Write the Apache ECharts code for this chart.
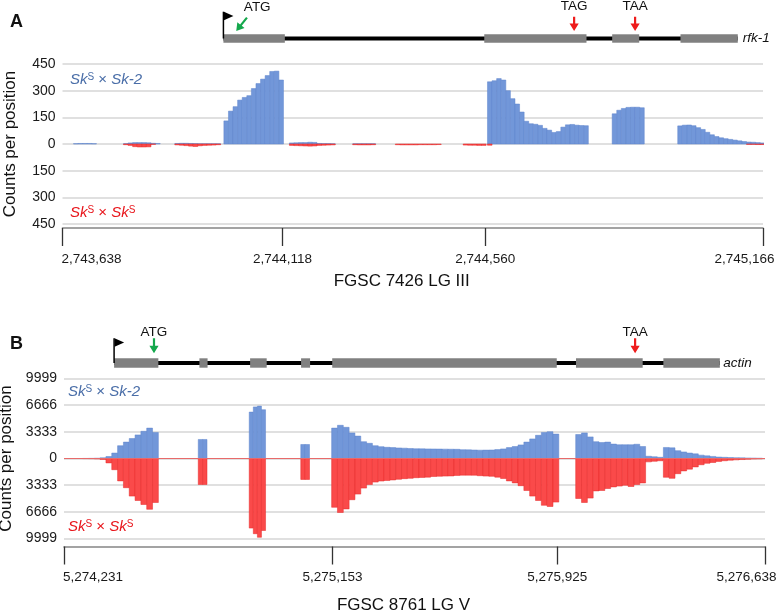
<!DOCTYPE html>
<html><head><meta charset="utf-8">
<script src="https://cdn.jsdelivr.net/npm/echarts@6/dist/echarts.min.js"></script>
<style>html,body{margin:0;padding:0;background:#fff}#c{width:777px;height:610px}</style>
</head><body><div id="c"></div>
<script>
// ================= DATA =================
// Panel A (FGSC 7426 LG III, rfk-1)
const aRange = [2743638, 2745166];
const aTickValues = [2743638, 2744118, 2744560, 2745166];
const aYMax = 450, aYStep = 150;
const aGeneName = 'rfk-1';
const aExons = [[2743989, 2744123], [2744558, 2744781], [2744837, 2744896], [2744986, 2745111]];
const aTss = 2743989;
const aCodons = [['ATG', 2744017], ['TAG', 2744754], ['TAA', 2744887]];
const aBinStep = 10;
const aSegStart = [2743662, 2743771, 2743883, 2743990, 2744133, 2744271, 2744364, 2744512, 2744565, 2744837, 2744980];
const aBlue = [
  [2,3,3,3,2],
  [2,6,8,8,8,7,4,3],
  [3,4,4,3,2,1,1,1,1,1],
  [130,185,210,247,262,272,312,340,365,385,408,410,360],
  [6,7,8,8,10,9,3,2,2,1],
  [1,1,1,1,1],
  [0,0,0,0,0,0,0,0,0,0],
  [0,0,0,0,0],
  [350,356,368,360,300,255,225,180,128,114,111,105,88,78,65,70,95,108,110,106,104,103],
  [170,190,200,206,207,207,204],
  [102,106,107,103,92,82,66,52,42,35,30,26,22,18,14,11,10,8,6]
];
const aRed = [
  [0,0,0,0,0],
  [4,8,15,17,17,16,2,0],
  [5,7,9,12,14,10,8,7,6,4],
  [0,0,0,0,0,0,0,0,0,0,0,0,0],
  [8,9,10,11,12,11,8,7,6,5],
  [4,5,5,5,4],
  [4,5,5,5,5,4,4,4,4,3],
  [6,7,7,8,8],
  [7,0,0,0,0,0,0,0,0,0,0,0,0,0,0,0,0,0,0,0,0,0],
  [0,0,0,0,0,0,0],
  [0,0,0,0,0,0,0,0,0,0,0,0,0,0,0,2,2,3,3]
];

// Panel B (FGSC 8761 LG V, actin)
const bRange = [5274231, 5276638];
const bTickValues = [5274231, 5275153, 5275925, 5276638];
const bYMax = 9999, bYStep = 3333;
const bGeneName = 'actin';
const bExons = [[5274403,5274555],[5274696,5274724],[5274870,5274927],[5275045,5275076],[5275152,5275923],[5275989,5276218],[5276289,5276483]];
const bTss = 5274403;
const bCodons = [['ATG', 5274540], ['TAA', 5276192]];
const bSegStart = [5274295, 5274692, 5274867, 5275044, 5275150, 5275988, 5276228, 5276289];
const bSegStep  = [20, 15, 14, 15, 20, 20, 20, 20];
const bBlue = [
  [10,20,40,90,250,680,1600,2050,2500,2950,3400,3800,3250],
  [2380,2380],
  [5800,6450,6550,6100],
  [1750,1750],
  [3800,4150,3900,3200,2800,2100,1900,1600,1480,1400,1360,1320,1290,1250,1220,1210,1200,1190,1180,1170,1160,1150,1100,1080,1060,1040,1050,1060,1110,1200,1360,1500,1700,2050,2450,2900,3250,3350,3050],
  [3000,3200,2700,2100,2000,2050,1800,1720,1720,1720,1780,1500],
  [280,220,150],
  [1380,1330,980,820,680,580,420,330,260,180,150,125,100,85,70,55,40]
];
const bRed = [
  [10,20,50,120,550,1400,2800,3650,4700,5250,5750,6350,5500],
  [3250,3250],
  [8700,9400,9850,9000],
  [2620,2620],
  [6100,6750,6300,5150,4450,3700,3250,2950,2820,2750,2680,2600,2520,2480,2400,2370,2330,2250,2220,2200,2180,2120,2080,2080,2090,2150,2200,2230,2330,2500,2800,3050,3400,4000,4700,5250,5850,6000,5450],
  [5000,5500,4950,4050,4000,3750,3550,3450,3350,3500,3250,3050],
  [420,350,280],
  [2350,2480,1900,1550,1330,1050,780,600,500,360,280,210,170,130,100,70,45]
];

// ================= BUILD =================
const FONT = 'Liberation Sans, Arial, Helvetica, sans-serif';
const BLUE = '#7297d9', BLUE_D = '#5f85cc';
const RED = '#fa4a4a', RED_D = '#e62828';

function bins(starts, steps, blue, red) {
  const b = [], r = [];
  starts.forEach((s, k) => {
    const st = Array.isArray(steps) ? steps[k] : steps;
    blue[k].forEach((v, i) => b.push([s + i * st, s + (i + 1) * st, v]));
    red[k].forEach((v, i) => r.push([s + i * st, s + (i + 1) * st, -v]));
  });
  return [b, r];
}
const [aB, aR] = bins(aSegStart, aBinStep, aBlue, aRed);
const [bB, bR] = bins(bSegStart, bSegStep, bBlue, bRed);

function barItem(fill, stroke) {
  return function (params, api) {
    const v = api.value(2);
    if (!v) return null;
    const p0 = api.coord([api.value(0), v]);
    const p1 = api.coord([api.value(1), 0]);
    return {
      type: 'rect',
      shape: { x: Math.min(p0[0], p1[0]), y: Math.min(p0[1], p1[1]), width: Math.abs(p1[0] - p0[0]), height: Math.abs(p1[1] - p0[1]) },
      style: { fill: fill, stroke: stroke, lineWidth: 0.5 }
    };
  };
}
function exonItem(params, api) {
  const p0 = api.coord([api.value(0), 1]);
  const p1 = api.coord([api.value(1), 0]);
  return { type: 'rect', shape: { x: p0[0], y: p0[1], width: p1[0] - p0[0], height: p1[1] - p0[1] }, style: { fill: '#808080' } };
}
function backboneItem(params, api) {
  const p0 = api.coord([api.value(0), 0.5]);
  const p1 = api.coord([api.value(1), 0.5]);
  return { type: 'rect', shape: { x: p0[0], y: p0[1] - 2.1, width: p1[0] - p0[0], height: 4.2 }, style: { fill: '#000' } };
}
function flagItem(flagH) {
  return function (params, api) {
    const mid = api.coord([api.value(0), 0.5]);
    const top = api.coord([api.value(0), 1])[1];
    const x = mid[0], yT = top - flagH;
    return { type: 'group', children: [
      { type: 'line', shape: { x1: x, y1: mid[1], x2: x, y2: yT }, style: { stroke: '#000', lineWidth: 1.5 } },
      { type: 'polygon', shape: { points: [[x + 0.5, yT], [x + 10, yT + 4.2], [x + 0.5, yT + 8.5]] }, style: { fill: '#000' } }
    ] };
  };
}
function arrowPoints(tail, tip) {
  const dx = tip[0] - tail[0], dy = tip[1] - tail[1];
  const L = Math.sqrt(dx * dx + dy * dy), ux = dx / L, uy = dy / L, nx = -uy, ny = ux;
  const hl = 7.5, hw = 4.6, sw = 1.1;
  const bx = tip[0] - ux * hl, by = tip[1] - uy * hl;
  return [[tail[0] + nx * sw, tail[1] + ny * sw], [bx + nx * sw, by + ny * sw], [bx + nx * hw, by + ny * hw], tip,
          [bx - nx * hw, by - ny * hw], [bx - nx * sw, by - ny * sw], [tail[0] - nx * sw, tail[1] - ny * sw]];
}
function codonItem(codons, cfg) {
  return function (params, api) {
    const label = codons[params.dataIndex][0];
    const top = api.coord([api.value(0), 1]);
    const tip = [top[0], top[1] - cfg.tipGap];
    const diag = cfg.diag && label === 'ATG';
    const tail = diag ? [tip[0] + cfg.diag[0], tip[1] + cfg.diag[1]] : [tip[0], tip[1] - cfg.len];
    const tpos = diag ? [tip[0] + cfg.diagText[0], tip[1] + cfg.diagText[1]] : [tip[0], tip[1] + cfg.textDy];
    const color = label === 'ATG' ? '#14a84c' : '#ee1c1c';
    return { type: 'group', children: [
      { type: 'polygon', shape: { points: arrowPoints(tail, tip) }, style: { fill: color } },
      { type: 'text', x: tpos[0], y: tpos[1], style: { text: label, fontSize: 13.5, fontFamily: FONT, fill: '#111', align: 'center', verticalAlign: 'middle' } }
    ] };
  };
}
function geneNameItem(name, gap) {
  return function (params, api) {
    const p = api.coord([api.value(0), 0.5]);
    return { type: 'text', x: p[0] + gap, y: p[1], style: { text: name, fontSize: 13.5, fontStyle: 'italic', fontFamily: FONT, fill: '#111', align: 'left', verticalAlign: 'middle' } };
  };
}

const gridBase = { outerBoundsMode: 'none', containLabel: false };
const grids = [
  Object.assign({ left: 62.5, right: 14, top: 34.3, height: 8.4 }, gridBase),   // gene A
  Object.assign({ left: 62.5, right: 14, top: 64, height: 160 }, gridBase),     // plot A
  Object.assign({ left: 64, right: 12, top: 358.3, height: 9.4 }, gridBase),    // gene B
  Object.assign({ left: 64, right: 12, top: 378.5, height: 160 }, gridBase)     // plot B
];
const fmt = v => Math.round(v).toLocaleString('en-US');

function geneX(idx, range) {
  return { type: 'value', gridIndex: idx, min: range[0], max: range[1], show: false };
}
function geneY(idx) {
  return { type: 'value', gridIndex: idx, min: 0, max: 1, show: false };
}
function plotX(idx, range, ticks, offset, name, gap) {
  return {
    type: 'value', gridIndex: idx, min: range[0], max: range[1], offset: offset,
    axisLine: { show: true, onZero: false, lineStyle: { color: '#858585', width: 1.6 } },
    axisTick: { show: true, length: 18, customValues: ticks, lineStyle: { color: '#333', width: 1.3 } },
    axisLabel: {
      customValues: ticks, margin: 24, fontSize: 13.5, color: '#1a1a1a', fontFamily: FONT,
      formatter: v => v === range[0] ? '{lo|' + fmt(v) + '}' : (v === range[1] ? '{hi|' + fmt(v) + '}' : fmt(v)),
      rich: {
        lo: { fontSize: 13.5, color: '#1a1a1a', fontFamily: FONT, padding: [0, 0, 0, 58] },
        hi: { fontSize: 13.5, color: '#1a1a1a', fontFamily: FONT, padding: [0, 37, 0, 0] }
      }
    },
    splitLine: { show: false },
    name: name, nameLocation: 'middle', nameGap: gap,
    nameTextStyle: { fontSize: 17, color: '#111', fontFamily: FONT, padding: [0, 22, 0, 0] }
  };
}
function plotY(idx, maxV, step) {
  return {
    type: 'value', gridIndex: idx, min: -maxV, max: maxV, interval: step,
    axisLine: { show: false }, axisTick: { show: false },
    axisLabel: { formatter: v => String(Math.abs(Math.round(v))), fontSize: 14, color: '#1a1a1a', margin: 7, fontFamily: FONT },
    splitLine: { show: true, lineStyle: { color: '#d6d6d6', width: 1.5 } },
    name: 'Counts per position', nameLocation: 'middle', nameGap: 44,
    nameTextStyle: { fontSize: 17, color: '#111', fontFamily: FONT }
  };
}

const cfgA = { tipGap: 3.3, len: 14.3, textDy: -24.5, diag: [10.7, -13.4], diagText: [21, -24.2] };
const cfgB = { tipGap: 5, len: 15, textDy: -21.3 };

function geneSeries(xi, yi, exons, tss, codons, name, cfg, flagH, nameGap) {
  const span = [[exons[0][0], exons[exons.length - 1][1]]];
  return [
    { type: 'custom', xAxisIndex: xi, yAxisIndex: yi, renderItem: backboneItem, data: span, encode: { x: [0, 1] }, z: 2, silent: true },
    { type: 'custom', xAxisIndex: xi, yAxisIndex: yi, renderItem: exonItem, data: exons, encode: { x: [0, 1] }, z: 3, silent: true },
    { type: 'custom', xAxisIndex: xi, yAxisIndex: yi, renderItem: flagItem(flagH), data: [[tss]], encode: { x: 0 }, z: 4, silent: true, clip: false },
    { type: 'custom', xAxisIndex: xi, yAxisIndex: yi, renderItem: codonItem(codons, cfg), data: codons.map(c => [c[1]]), encode: { x: 0 }, z: 4, silent: true, clip: false },
    { type: 'custom', xAxisIndex: xi, yAxisIndex: yi, renderItem: geneNameItem(name, nameGap), data: [[exons[exons.length - 1][1]]], encode: { x: 0 }, z: 4, silent: true, clip: false }
  ];
}
function dataSeries(xi, yi, blue, red, zeroLine) {
  const r = { type: 'custom', xAxisIndex: xi, yAxisIndex: yi, renderItem: barItem(RED, RED_D), data: red, encode: { x: [0, 1], y: 2 }, z: 3, clip: true, silent: true };
  if (zeroLine) {
    r.markLine = { silent: true, symbol: 'none', animation: false, label: { show: false },
      lineStyle: { color: '#e86a6a', width: 1, type: 'solid' }, data: [{ yAxis: 0 }] };
  }
  return [
    { type: 'custom', xAxisIndex: xi, yAxisIndex: yi, renderItem: barItem(BLUE, BLUE_D), data: blue, encode: { x: [0, 1], y: 2 }, z: 3, clip: true, silent: true },
    r
  ];
}

function strainText(x, y, color, second, supSecond) {
  const parts = supSecond ? '{i|Sk}{s|S}{n| × }{i|Sk}{s|S}' : '{i|Sk}{s|S}{n| × }{i|' + second + '}';
  return {
    type: 'text', x: x, y: y,
    style: {
      text: parts, fill: color, verticalAlign: 'middle', align: 'left',
      rich: {
        i: { fontSize: 15, fontStyle: 'italic', fontFamily: FONT, fill: color, color: color, verticalAlign: 'bottom' },
        n: { fontSize: 15, fontFamily: FONT, fill: color, color: color, verticalAlign: 'bottom' },
        s: { fontSize: 10, fontFamily: FONT, fill: color, color: color, verticalAlign: 'top' }
      }
    }
  };
}

const option = {
  animation: false,
  backgroundColor: '#fff',
  grid: grids,
  xAxis: [
    geneX(0, aRange),
    plotX(1, aRange, aTickValues, 4, 'FGSC 7426 LG III', 45),
    geneX(2, bRange),
    plotX(3, bRange, bTickValues, 8, 'FGSC 8761 LG V', 50)
  ],
  yAxis: [geneY(0), plotY(1, aYMax, aYStep), geneY(2), plotY(3, bYMax, bYStep)],
  series: [].concat(
    geneSeries(0, 0, aExons, aTss, aCodons, aGeneName, cfgA, 22.6, 5),
    dataSeries(1, 1, aB, aR, false),
    geneSeries(2, 2, bExons, bTss, bCodons, bGeneName, cfgB, 20, 3.5),
    dataSeries(3, 3, bB, bR, true)
  ),
  graphic: [
    { type: 'text', x: 10, y: 22, style: { text: 'A', fontSize: 18, fontWeight: 'bold', fontFamily: FONT, fill: '#111', verticalAlign: 'middle' } },
    { type: 'text', x: 10, y: 344, style: { text: 'B', fontSize: 18, fontWeight: 'bold', fontFamily: FONT, fill: '#111', verticalAlign: 'middle' } },
    strainText(70, 80, '#4a6ea8', 'Sk-2', false),
    strainText(70, 213, '#e8161c', '', true),
    strainText(68, 392, '#4a6ea8', 'Sk-2', false),
    strainText(68, 527, '#e8161c', '', true)
  ]
};

const chart = echarts.init(document.getElementById('c'), null, { renderer: 'canvas' });
chart.setOption(option);
</script>
</body></html>
